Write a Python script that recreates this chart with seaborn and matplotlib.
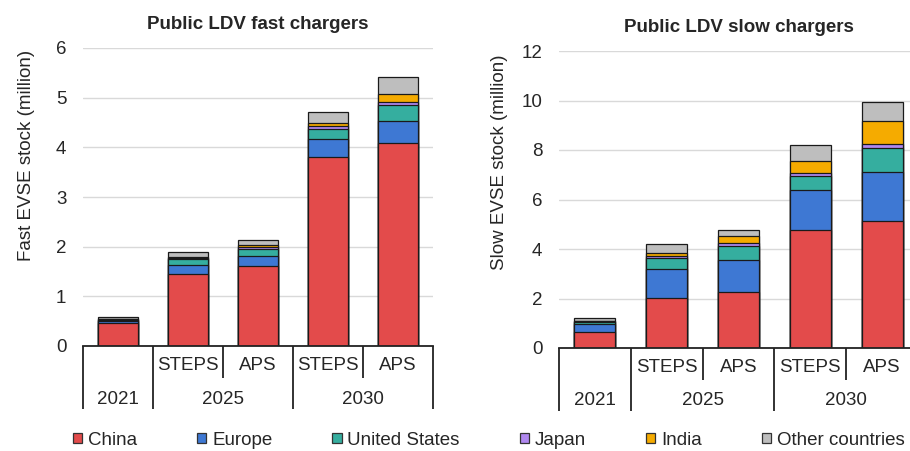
import numpy as np
import pandas as pd
import matplotlib
matplotlib.use("Agg")
import matplotlib.pyplot as plt
import matplotlib.transforms as mtransforms
from matplotlib.patches import Patch
import seaborn as sns

# ---- data -------------------------------------------------------------
slots = ["2021", "2025 STEPS", "2025 APS", "2030 STEPS", "2030 APS"]
scenario_labels = ["", "STEPS", "APS", "STEPS", "APS"]
year_labels = ["2021", "2025", "2030"]
regions = ["China", "Europe", "United States", "Japan", "India", "Other countries"]

fast_china = [0.47, 1.44, 1.61, 3.80, 4.09]
fast_europe = [0.03, 0.20, 0.21, 0.37, 0.45]
fast_us = [0.02, 0.11, 0.14, 0.20, 0.32]
fast_japan = [0.02, 0.02, 0.04, 0.06, 0.06]
fast_india = [0.01, 0.02, 0.04, 0.07, 0.16]
fast_other = [0.03, 0.11, 0.09, 0.21, 0.33]

slow_china = [0.66, 2.03, 2.27, 4.78, 5.14]
slow_europe = [0.29, 1.18, 1.28, 1.59, 1.97]
slow_us = [0.10, 0.44, 0.59, 0.58, 0.98]
slow_japan = [0.03, 0.07, 0.12, 0.12, 0.14]
slow_india = [0.01, 0.10, 0.25, 0.50, 0.93]
slow_other = [0.11, 0.38, 0.26, 0.62, 0.78]

colors = ["#E34B4B", "#3E78D3", "#35AE9F", "#B088F0", "#F5AB00", "#BEBEBE"]

# ---- style ------------------------------------------------------------
sns.set_style("white")
plt.rcParams["font.family"] = ["Liberation Sans", "DejaVu Sans"]
FS = 13.5
EDGE = "#1a1a1a"


def long_table(series):
    rows = []
    for region, vals in zip(regions, series):
        for slot, v in zip(slots, vals):
            rows.append({"slot": slot, "region": region, "value": v})
    df = pd.DataFrame(rows)
    df["region"] = pd.Categorical(df["region"], regions, ordered=True)
    df = df.sort_values(["slot", "region"])
    df["top"] = df.groupby("slot", observed=True)["value"].cumsum()
    return df


def stacked(ax, df, ymax, step, ylabel, title, width, label_xy):
    # draw cumulative totals from the top layer down so each layer shows its own slice
    for region, color in reversed(list(zip(regions, colors))):
        sub = df[df["region"] == region]
        sns.barplot(data=sub, x="slot", y="top", order=slots, color=color,
                    width=width, edgecolor=EDGE, linewidth=0.9,
                    errorbar=None, saturation=1, ax=ax)
    ax.set_xlim(-0.5, len(slots) - 0.5)
    ax.set_ylim(0, ymax)
    ticks = np.arange(0, ymax + step / 2, step)
    ax.set_yticks(ticks)
    ax.set_yticklabels([f"{v:g}" for v in ticks], fontsize=FS)
    ax.tick_params(axis="y", length=0, pad=12)
    ax.set_xticks([])
    ax.set_xlabel("")
    ax.set_ylabel(ylabel, fontsize=FS)
    ax.yaxis.set_label_coords(*label_xy)
    ax.set_title(title, fontsize=FS, fontweight="bold", pad=14)
    ax.yaxis.grid(True, color="#d9d9d9", linewidth=1.0)
    ax.set_axisbelow(True)
    for s in ["left", "right", "top"]:
        ax.spines[s].set_visible(False)
    ax.spines["bottom"].set_color("#222222")
    ax.spines["bottom"].set_linewidth(1.3)

    # category table below the axis
    tr = mtransforms.blended_transform_factory(ax.transData, ax.transAxes)
    full, half = -0.212, -0.108
    for x in [-0.5, 0.5, 2.5, 4.5]:
        ax.plot([x, x], [0, full], transform=tr, color="#222222", lw=1.3,
                clip_on=False, solid_capstyle="butt")
    for x in [1.5, 3.5]:
        ax.plot([x, x], [0, half], transform=tr, color="#222222", lw=1.3,
                clip_on=False, solid_capstyle="butt")
    for i, lab in enumerate(scenario_labels):
        if lab:
            ax.text(i, -0.067, lab, transform=tr, ha="center", va="center",
                    fontsize=FS)
    for x, lab in zip([0, 1.5, 3.5], year_labels):
        ax.text(x, -0.178, lab, transform=tr, ha="center", va="center",
                fontsize=FS)


fig = plt.figure(figsize=(9.10, 4.51), dpi=100)
W, H = 910, 451
ax1 = fig.add_axes([83 / W, (H - 346) / H, 350 / W, 298 / H])
ax2 = fig.add_axes([559 / W, (H - 348) / H, 359 / W, 297 / H])

fast = long_table([fast_china, fast_europe, fast_us, fast_japan, fast_india, fast_other])
slow = long_table([slow_china, slow_europe, slow_us, slow_japan, slow_india, slow_other])

stacked(ax1, fast, 6, 1, "Fast EVSE stock (million)", "Public LDV fast chargers",
        0.585, (-0.137, 0.641))
stacked(ax2, slow, 12, 2, "Slow EVSE stock (million)", "Public LDV slow chargers",
        0.57, (-0.142, 0.626))

handles = [Patch(facecolor=c, edgecolor="#333333", linewidth=0.9) for c in colors]
fig.legend(handles, regions, loc="center", bbox_to_anchor=(0.537, 0.024),
           ncol=6, frameon=False, fontsize=FS, handlelength=0.5,
           handleheight=0.5, handletextpad=0.3, columnspacing=3.2,
           borderpad=0, borderaxespad=0)

fig.savefig("out.png", dpi=100)
